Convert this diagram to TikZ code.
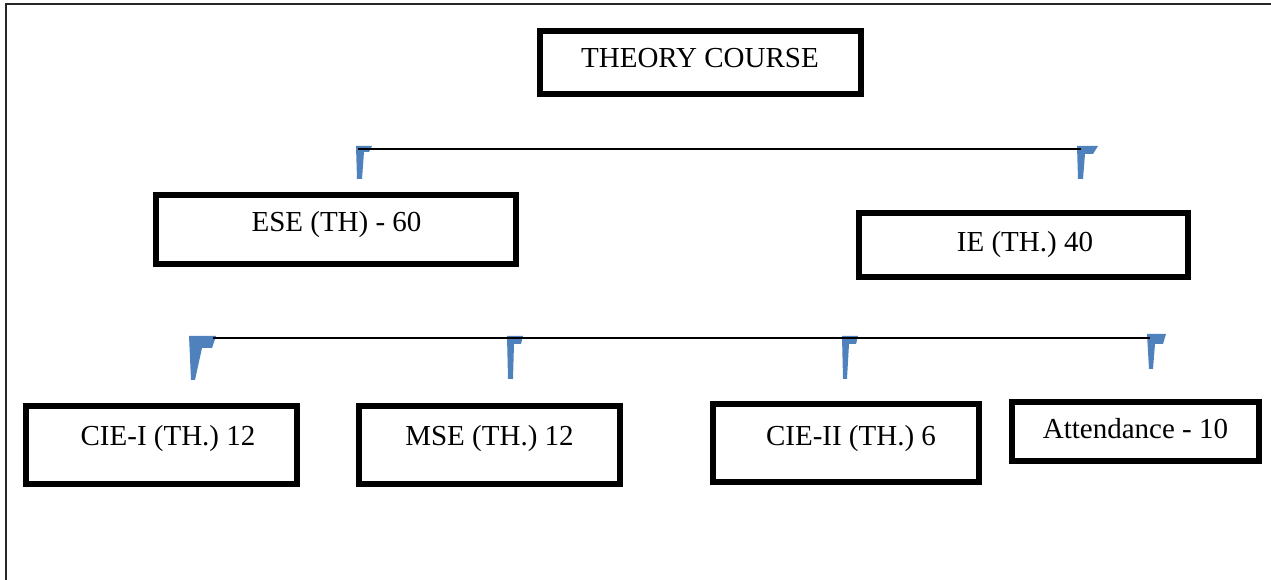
\documentclass[tikz,border=0pt]{standalone}
\usepackage{fontspec}
\setmainfont{Liberation Serif}
\definecolor{flagblue}{RGB}{79,129,189}
\begin{document}
\begin{tikzpicture}[x=0.75pt,y=-0.75pt,
  box/.style={draw=black,line width=4.2pt,rectangle,inner sep=0pt},
  label/.style={anchor=base,inner sep=0pt,font=\fontsize{21.75}{26}\selectfont},
  flag/.style={fill=flagblue,draw=none},
  link/.style={draw=black,line width=1.3pt},
  frame/.style={draw=black!85,line width=1.5pt}]
\useasboundingbox (0,0) rectangle (1271,580);

% page frame (top and left edges)
\draw[frame] (5.5,580) -- (5.5,4.5) -- (1271,4.5);

% boxes
\node[box,minimum width=321*0.75pt,minimum height=63*0.75pt] (theory) at (700.5,62.5) {};
\node[box,minimum width=360*0.75pt,minimum height=69*0.75pt] (ese) at (336,229.5) {};
\node[box,minimum width=329*0.75pt,minimum height=64*0.75pt] (ie) at (1023.5,245) {};
\node[box,minimum width=271*0.75pt,minimum height=78*0.75pt] (cie1) at (161.5,445) {};
\node[box,minimum width=261*0.75pt,minimum height=78*0.75pt] (mse) at (489.5,445) {};
\node[box,minimum width=266*0.75pt,minimum height=78*0.75pt] (cie2) at (846,443) {};
\node[box,minimum width=247*0.75pt,minimum height=59*0.75pt] (att) at (1135.5,431.5) {};

% box texts
\node[label] (theoryt) at (700,68) {THEORY COURSE};
\node[label] (eset) at (336.5,231.5) {ESE (TH) - 60};
\node[label] (iet) at (1025,252) {IE (TH.) 40};
\node[label] (cie1t) at (168,446) {CIE-I (TH.) 12};
\node[label] (mset) at (489.5,446) {MSE (TH.) 12};
\node[label] (cie2t) at (851,446) {CIE-II (TH.) 6};
\node[label] (attt) at (1135.5,439) {Attendance - 10};

% bent arrow heads
\fill[flag] (356,146) -- (372,146) -- (369,152) -- (364,152) -- (362,179) -- (357,179) -- cycle;
\fill[flag] (1077,146) -- (1098,146) -- (1093,154) -- (1085,154) -- (1083,179) -- (1078,179) -- cycle;
\fill[flag] (189,336) -- (216,336) -- (212,348) -- (202,348) -- (195,380) -- (191,380) -- cycle;
\fill[flag] (507,336) -- (523,336) -- (521,344) -- (514,344) -- (513,379) -- (508,379) -- cycle;
\fill[flag] (842,336) -- (858,336) -- (856,344) -- (849,344) -- (847,379) -- (843,379) -- cycle;
\fill[flag] (1147,334) -- (1166,334) -- (1163,344) -- (1155,344) -- (1153,369) -- (1149,369) -- cycle;

% connector ends
\coordinate (ua) at (358,149);
\coordinate (ub) at (1081,149);
\coordinate (la) at (213,338);
\coordinate (lb) at (1150,338);

% connectors
\draw[link] (ua) -- (ub);
\draw[link] (la) -- (lb);
\end{tikzpicture}
\end{document}
